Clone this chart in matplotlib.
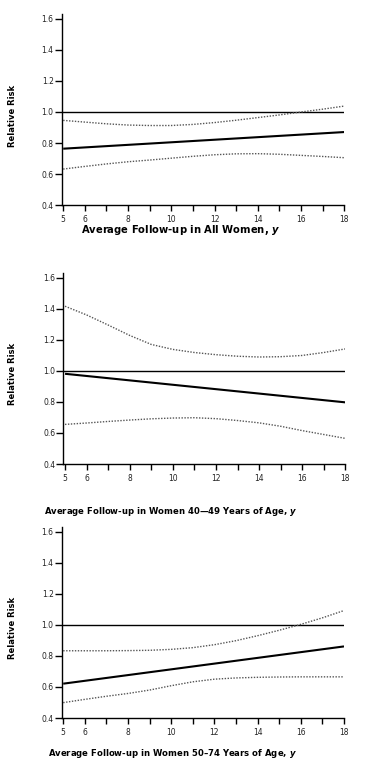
import matplotlib
matplotlib.use("Agg")
import matplotlib.pyplot as plt

plt.rcParams['font.family'] = ['DejaVu Sans']
plt.rcParams['mathtext.fontset'] = 'custom'
plt.rcParams['mathtext.it'] = 'DejaVu Sans:italic:bold'

years = [5, 6, 7, 8, 9, 10, 11, 12, 13, 14, 15, 16, 17, 18]
trend_years = [5, 18]

# All women
all_rr = [0.764, 0.871]
all_upper = [0.946, 0.935, 0.924, 0.916, 0.913, 0.913, 0.920, 0.932, 0.947, 0.964, 0.981, 1.000, 1.018, 1.038]
all_lower = [0.633, 0.650, 0.666, 0.680, 0.691, 0.703, 0.715, 0.725, 0.731, 0.732, 0.728, 0.721, 0.714, 0.706]

# Women 40-49
w40_rr = [0.981, 0.797]
w40_upper = [1.416, 1.360, 1.295, 1.228, 1.170, 1.138, 1.118, 1.104, 1.094, 1.089, 1.091, 1.099, 1.118, 1.141]
w40_lower = [0.655, 0.664, 0.674, 0.683, 0.691, 0.696, 0.698, 0.692, 0.680, 0.665, 0.643, 0.615, 0.590, 0.565]

# Women 50-74
w50_rr = [0.621, 0.861]
w50_upper = [0.833, 0.833, 0.833, 0.834, 0.836, 0.842, 0.853, 0.872, 0.898, 0.930, 0.965, 1.003, 1.045, 1.092]
w50_lower = [0.499, 0.520, 0.540, 0.558, 0.580, 0.608, 0.633, 0.650, 0.658, 0.662, 0.664, 0.665, 0.665, 0.665]

xlabels = ["Average Follow-up in All Women, $\\it{y}$",
           "Average Follow-up in Women 40\u201449 Years of Age, $\\it{y}$",
           "Average Follow-up in Women 50\u201374 Years of Age, $\\it{y}$"]
ytick_vals = [0.4, 0.6, 0.8, 1.0, 1.2, 1.4, 1.6]
xtick_labeled = [5, 6, 8, 10, 12, 14, 16, 18]

W, H = 368, 766
fig = plt.figure(figsize=(W / 100, H / 100), dpi=100)

# pixel boxes: left, right(x=18), top, bottom(0.4), x start
boxes = [(61.7, 344.3, 14, 205.3, 4.93),
         (63.3, 345.3, 273, 464, 4.92),
         (61.7, 344.0, 527, 718, 4.93)]
xlab_pos = [(181, 230), (171, 512), (172, 753)]
xlab_size = [7.2, 6.1, 6.1]
ylab_y = [116, 374, 628]

panels = [(all_rr, all_upper, all_lower),
          (w40_rr, w40_upper, w40_lower),
          (w50_rr, w50_upper, w50_lower)]

for i, (rr, up, lo) in enumerate(panels):
    l, r, t, b, x0 = boxes[i]
    ax = fig.add_axes([l / W, (H - b) / H, (r - l) / W, (b - t) / H])
    ax.set_xlim(x0, 18)
    ax.set_ylim(0.4, 1.63)
    ax.axhline(1.0, color='black', lw=1.0)
    ax.plot(trend_years, rr, color='black', lw=1.5, solid_capstyle='butt')
    ax.plot(years, up, color='#555555', lw=1.0, linestyle=(0, (1, 1.1)))
    ax.plot(years, lo, color='#555555', lw=1.0, linestyle=(0, (1, 1.1)))

    for s in ['top', 'right']:
        ax.spines[s].set_visible(False)
    for s in ['left', 'bottom']:
        ax.spines[s].set_linewidth(1.0)

    ax.set_yticks(ytick_vals)
    ax.set_yticklabels(["%.1f" % v for v in ytick_vals])
    ax.set_xticks(range(5, 19))
    ax.set_xticklabels([str(v) if v in xtick_labeled else "" for v in range(5, 19)])
    ax.tick_params(axis='y', length=5, width=1.0, pad=0.8, labelsize=5.5, labelcolor='#222222')
    ax.tick_params(axis='x', length=4.5, width=1.0, pad=2.5, labelsize=5.5, labelcolor='#222222')

    fig.text(xlab_pos[i][0] / W, 1 - xlab_pos[i][1] / H, xlabels[i],
             ha='center', va='center', fontsize=xlab_size[i], fontweight='bold')
    fig.text(13 / W, 1 - ylab_y[i] / H, "Relative Risk", rotation=90,
             ha='center', va='center', fontsize=6, fontweight='bold')

fig.savefig("out.png", dpi=100)
